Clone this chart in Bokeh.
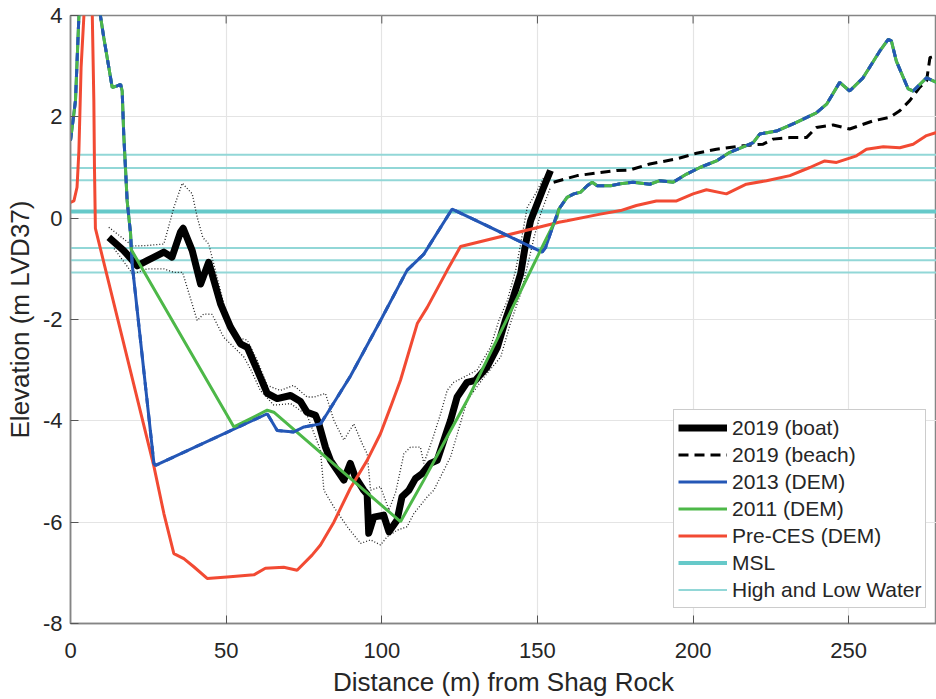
from bokeh.plotting import figure
from bokeh.models import Range1d, FixedTicker, Legend, LegendItem
from bokeh.embed import file_html
from bokeh.resources import INLINE

# ---------------- data ----------------
x_ticks = [0, 50, 100, 150, 200, 250]
y_ticks = [-8, -6, -4, -2, 0, 2, 4]

boat_x = [12.3, 17.1, 21.4, 24.6, 30.0, 32.6, 35.3, 36.2, 39.1, 41.8, 44.4, 48.2, 51.4, 54.6,
          56.8, 60.0, 63.2, 66.4, 70.7, 73.9, 76.0, 78.7, 79.8, 81.9, 83.5, 87.8, 89.9, 91.5,
          94.2, 95.3, 95.8, 97.4, 100.6, 102.3, 104.9, 106.5, 108.7, 110.8, 113.0, 115.6,
          117.8, 121.0, 122.1, 124.2, 127.4, 130.1, 133.8, 137.1, 139.7, 141.9, 144.6, 146.2,
          147.8, 149.9, 152.0, 154.2]
boat_y = [-0.38, -0.64, -0.94, -0.84, -0.67, -0.77, -0.28, -0.20, -0.64, -1.30, -0.87, -1.69,
          -2.15, -2.48, -2.55, -3.00, -3.46, -3.56, -3.50, -3.62, -3.83, -3.89, -4.06, -4.52,
          -4.78, -5.17, -4.84, -5.11, -5.37, -5.45, -6.22, -5.90, -5.86, -6.19, -5.96, -5.50,
          -5.37, -5.14, -5.04, -4.84, -4.78, -4.19, -3.99, -3.53, -3.24, -3.20, -2.94, -2.55,
          -2.02, -1.63, -1.10, -0.51, -0.05, 0.28, 0.61, 0.94]

boat_upper_x = [12.3, 20.0, 24.6, 30.0, 33.2, 35.9, 39.1, 40.7, 42.5, 44.4, 47.1, 50.3, 53.5,
                56.8, 60.0, 63.2, 67.4, 71.7, 76.0, 78.2, 81.9, 84.6, 87.8, 91.0, 93.7, 95.3,
                96.4, 99.6, 102.3, 104.5, 107.1, 109.2, 112.4, 113.5, 116.2, 118.9, 121.0,
                123.1, 126.3, 130.6, 134.9, 137.6, 140.3, 143.0, 144.6, 146.7, 149.4, 152.0]
boat_upper_y = [-0.18, -0.55, -0.54, -0.51, 0.21, 0.69, 0.48, 0.02, -0.38, -0.51, -1.17, -1.95,
                -2.35, -2.41, -2.81, -3.30, -3.40, -3.30, -3.53, -3.53, -3.46, -3.99, -4.38,
                -4.06, -4.45, -4.65, -5.37, -5.30, -5.76, -5.40, -4.65, -4.52, -4.52, -4.84,
                -4.38, -3.86, -3.40, -3.24, -3.14, -3.00, -2.55, -2.02, -1.63, -1.03, -0.51,
                0.21, 0.48, 0.80]

boat_lower_x = [14.0, 20.0, 24.6, 30.0, 33.2, 36.0, 40.7, 42.8, 45.5, 49.2, 55.7, 58.0, 61.0,
                65.3, 70.7, 76.0, 80.3, 81.4, 84.6, 88.9, 93.2, 96.4, 99.6, 101.7, 104.9,
                108.1, 110.3, 114.6, 116.7, 119.9, 122.1, 127.4, 132.8, 138.2, 141.3, 144.6,
                146.7, 148.9, 151.0, 154.2]
boat_lower_y = [-0.60, -1.10, -1.00, -1.00, -1.07, -1.07, -2.02, -1.89, -1.90, -2.35, -2.74,
                -3.00, -3.40, -3.69, -3.66, -3.89, -4.58, -5.37, -5.70, -6.09, -6.42, -6.35,
                -6.45, -6.29, -6.16, -6.09, -5.83, -5.50, -5.37, -4.98, -4.71, -3.60, -3.14,
                -2.74, -2.08, -1.49, -0.97, -0.38, 0.08, 0.61]

beach_x = [155.2, 162.8, 170.2, 175.4, 179.7, 186.1, 194.7, 201.1, 207.5, 216.1, 222.5, 225.7,
           231.1, 236.4, 239.6, 245.0, 250.3, 257.8, 263.2, 266.4, 269.6, 272.8, 275.0, 276.1,
           278.2]
beach_y = [0.71, 0.84, 0.90, 0.94, 0.95, 1.07, 1.17, 1.28, 1.36, 1.43, 1.46, 1.56, 1.59, 1.59,
           1.79, 1.84, 1.76, 1.92, 1.99, 2.12, 2.32, 2.58, 2.71, 3.17, 3.20]

# DEM profiles: 2013 and 2011 share the land parts at both ends
dem_left_x = [0.0, 1.6, 2.7, 4.0, 8.5, 9.6, 10.7, 13.4, 15.0, 16.1, 16.6, 17.1, 18.2, 19.3]
dem_left_y = [1.53, 2.32, 3.99, 5.6, 5.0, 4.0, 3.56, 2.58, 2.61, 2.64, 2.51, 1.66, 0.34, -0.31]
dem_right_x = [156.9, 159.5, 161.7, 163.8, 166.0, 167.6, 169.2, 173.5, 176.7, 180.7, 186.1,
               189.3, 193.6, 197.9, 202.2, 207.5, 211.8, 217.1, 219.3, 221.4, 226.8, 233.2,
               239.6, 242.9, 247.1, 250.3, 254.6, 260.0, 262.7, 263.7, 265.3, 269.1, 270.7,
               275.0, 278.2]
dem_right_y = [0.18, 0.41, 0.48, 0.51, 0.64, 0.71, 0.64, 0.64, 0.68, 0.71, 0.67, 0.74, 0.71,
               0.87, 1.00, 1.13, 1.30, 1.43, 1.49, 1.66, 1.72, 1.89, 2.08, 2.25, 2.68, 2.51,
               2.77, 3.30, 3.53, 3.50, 3.10, 2.55, 2.51, 2.77, 2.68]

dem2013_mid_x = [19.8, 26.8, 27.3, 63.2, 66.4, 71.7, 75.0, 80.3, 82.4, 89.9, 99.6, 108.1,
                 113.5, 122.6, 151.5, 152.6]
dem2013_mid_y = [-0.90, -4.84, -4.88, -3.86, -4.19, -4.22, -4.12, -4.06, -3.86, -3.12, -2.02,
                 -1.03, -0.71, 0.18, -0.67, -0.58]

dem2011_mid_x = [19.5, 52.5, 63.2, 65.3, 106.0, 113.5, 122.1, 127.4, 152.0, 156.3]
dem2011_mid_y = [-0.62, -4.12, -3.79, -3.83, -5.99, -5.17, -4.19, -3.60, -0.51, 0.02]

preces_x = [0.0, 1.1, 2.1, 2.7, 3.4, 4.3, 5.6, 7.0, 7.5, 7.7, 8.0, 26.8, 30.0, 33.2, 36.4, 39.6,
            43.9, 50.3, 58.9, 62.6, 68.5, 72.8, 77.6, 80.3, 84.6, 89.9, 95.3, 99.6, 102.8,
            106.0, 111.4, 114.6, 121.0, 125.3, 147.8, 156.9, 159.5, 170.2, 176.7, 181.8, 188.2,
            194.7, 200.0, 204.3, 210.7, 217.1, 223.6, 231.1, 237.5, 242.3, 246.1, 252.5, 255.7,
            261.1, 266.4, 270.7, 275.0, 278.2]
preces_y = [0.31, 0.34, 0.61, 1.33, 2.97, 3.99, 6.0, 4.0, 2.32, 1.00, -0.20, -4.90, -5.83,
            -6.62, -6.72, -6.88, -7.11, -7.08, -7.04, -6.91, -6.89, -6.95, -6.65, -6.45, -6.00,
            -5.33, -4.78, -4.25, -3.73, -3.20, -2.08, -1.76, -1.03, -0.56, -0.22, -0.08, -0.05,
            0.08, 0.15, 0.25, 0.34, 0.34, 0.48, 0.56, 0.48, 0.67, 0.74, 0.84, 1.00, 1.13, 1.10,
            1.23, 1.36, 1.41, 1.39, 1.46, 1.63, 1.69]

msl_level = 0.13
high_low_levels = [1.25, 0.99, 0.75, -0.59, -0.83, -1.07]
level_span = [0, 280]

# ---------------- styles ----------------
FONT = "Liberation Sans"
TXT = "#262626"
BLUE = "#2457b6"
GREEN = "#4db848"
RED = "#f24a33"
MSL_C = "#66c9c9"
HL_C = "#92d7d7"
AX_C = "#858585"

X_END = 278.2
Y_MIN, Y_MAX = -8, 4
p = figure(width=936, height=699, output_backend="svg", toolbar_location=None,
           x_range=Range1d(0, X_END), y_range=Range1d(Y_MIN, Y_MAX),
           min_border_left=70, min_border_right=0, min_border_top=15, min_border_bottom=75,
           background_fill_color="white", border_fill_color="white")

p.outline_line_color = AX_C
p.outline_line_width = 1.5

for ax in (p.xaxis[0], p.yaxis[0]):
    ax.axis_line_color = AX_C
    ax.axis_line_width = 1.5
    ax.major_tick_line_color = "#555555"
    ax.major_tick_in = 8
    ax.major_tick_out = 0
    ax.minor_tick_line_color = None
    ax.major_label_text_font = FONT
    ax.major_label_text_font_size = "22px"
    ax.major_label_text_color = TXT
    ax.axis_label_text_font = FONT
    ax.axis_label_text_font_size = "26px"
    ax.axis_label_text_font_style = "normal"
    ax.axis_label_text_color = TXT

p.xaxis[0].ticker = FixedTicker(ticks=x_ticks)
p.yaxis[0].ticker = FixedTicker(ticks=y_ticks)
# plain hyphen-minus as in the reference
p.yaxis[0].major_label_overrides = {t: ("-%d" % abs(t) if t < 0 else "%d" % t) for t in y_ticks}
p.xaxis[0].axis_label = "Distance (m) from Shag Rock"
p.yaxis[0].axis_label = "Elevation (m LVD37)"
p.xaxis[0].major_label_standoff = 19
p.xaxis[0].axis_label_standoff = 6
p.yaxis[0].major_label_standoff = 8
p.yaxis[0].axis_label_standoff = 5

# inward tick marks on the top edge of the box
top_tick_len = (Y_MAX - Y_MIN) * 8 / 609
p.segment(x0=x_ticks, y0=[Y_MAX] * len(x_ticks), x1=x_ticks,
          y1=[Y_MAX - top_tick_len] * len(x_ticks), line_color="#555555", line_width=1)

p.xgrid.ticker = FixedTicker(ticks=x_ticks)
p.ygrid.ticker = FixedTicker(ticks=y_ticks)
p.xgrid.grid_line_color = "#e4e4e4"
p.ygrid.grid_line_color = "#e4e4e4"
p.xgrid.grid_line_width = 1.2
p.ygrid.grid_line_width = 1.2

# water levels
hl_renderers = []
for lv in high_low_levels:
    hl_renderers.append(p.line(level_span, [lv, lv], line_color=HL_C, line_width=2))
r_msl = p.line(level_span, [msl_level, msl_level], line_color=MSL_C, line_width=4)

# 2019 boat survey envelope (dotted) and profile
p.line(boat_upper_x, boat_upper_y, line_color="#222222", line_width=1.3, line_dash="1 2")
p.line(boat_lower_x, boat_lower_y, line_color="#222222", line_width=1.3, line_dash="1 2")
r_boat = p.line(boat_x, boat_y, line_color="black", line_width=7, line_join="round")
r_beach = p.line(beach_x, beach_y, line_color="black", line_width=3, line_dash="10 6")

# DEM profiles
dem2013_x = dem_left_x + dem2013_mid_x + dem_right_x
dem2013_y = dem_left_y + dem2013_mid_y + dem_right_y
dem2011_x = dem_left_x + dem2011_mid_x + dem_right_x
dem2011_y = dem_left_y + dem2011_mid_y + dem_right_y

r_red = p.line(preces_x, preces_y, line_color=RED, line_width=3)
r_blue = p.line(dem2013_x, dem2013_y, line_color=BLUE, line_width=3)
r_green = p.line(dem2011_x, dem2011_y, line_color=GREEN, line_width=3)
p.line(dem2013_x, dem2013_y, line_color=BLUE, line_width=3, line_dash="8 8")

legend = Legend(items=[
    LegendItem(label="2019 (boat)", renderers=[r_boat]),
    LegendItem(label="2019 (beach)", renderers=[r_beach]),
    LegendItem(label="2013 (DEM)", renderers=[r_blue]),
    LegendItem(label="2011 (DEM)", renderers=[r_green]),
    LegendItem(label="Pre-CES (DEM)", renderers=[r_red]),
    LegendItem(label="MSL", renderers=[r_msl]),
    LegendItem(label="High and Low Water", renderers=[hl_renderers[0]]),
], location=(603, 15))
legend.label_text_font = FONT
legend.label_text_font_size = "21px"
legend.label_text_color = TXT
legend.glyph_width = 49
legend.glyph_height = 27
legend.label_height = 27
legend.label_standoff = 5
legend.spacing = 0
legend.padding = 4
legend.margin = 0
legend.border_line_color = "#9a9a9a"
legend.border_line_width = 1.5
legend.background_fill_color = "white"
legend.background_fill_alpha = 1.0
p.add_layout(legend)

open("out.html", "w").write(file_html(p, INLINE))
